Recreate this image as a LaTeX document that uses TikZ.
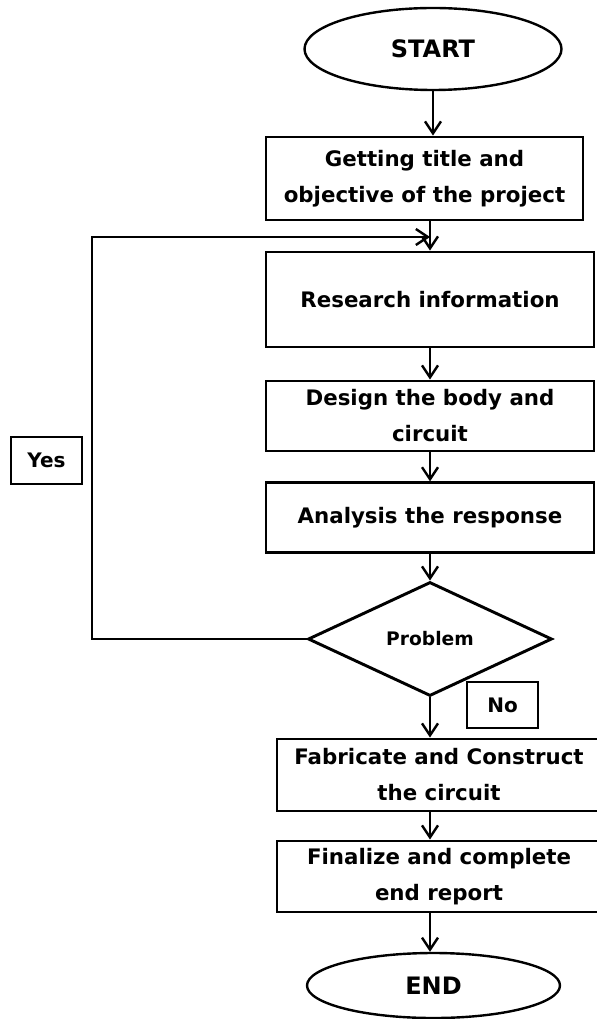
\documentclass[tikz,border=0pt]{standalone}
\usepackage{fontspec}
\setmainfont{DejaVu Sans}
\usetikzlibrary{arrows.meta, shapes.geometric}

\begin{document}
\begin{tikzpicture}[x=0.75pt, y=-0.75pt,
  box/.style={draw, line width=2.2pt, rectangle, align=center, inner sep=0pt, font=\bfseries\fontsize{16}{27}\selectfont},
  oval/.style={draw, line width=1.8pt, ellipse, inner sep=0pt, font=\bfseries\fontsize{18}{20}\selectfont},
  decision/.style={draw, line width=2.2pt, diamond, inner sep=0pt, font=\bfseries\fontsize{14}{16}\selectfont},
  tag/.style={draw, line width=2.2pt, rectangle, inner sep=0pt, minimum width=53.25pt, font=\bfseries\fontsize{15}{16}\selectfont},
  arrow/.style={line width=1.8pt, -{Straight Barb[length=9pt, width=12pt, line width=1.8pt]}}]
\useasboundingbox (0,0) rectangle (596,1019);
\node[oval, minimum width=192.75pt, minimum height=61.5pt] (start) at (433,49) {START};
\node[box, minimum width=237.75pt, minimum height=62.25pt] (title) at (424.5,178.5) {Getting title and\\objective of the project};
\node[box, minimum width=246pt, minimum height=71.25pt] (research) at (430,299.5) {Research information};
\node[box, minimum width=246pt, minimum height=52.5pt] (design) at (430,416) {Design the body and\\circuit};
\node[box, minimum width=246pt, minimum height=52pt] (analysis) at (430,517.5) {Analysis the response};
\node[decision, minimum width=183pt, minimum height=85.5pt] (problem) at (430,639) {Problem};
\node[box, minimum width=243pt, minimum height=54pt] (fabricate) at (439,775) {Fabricate and Construct\\the circuit};
\node[box, minimum width=243pt, minimum height=53.25pt] (finalize) at (439,876.5) {Finalize and complete\\end report};
\node[oval, minimum width=189.75pt, minimum height=48.75pt] (end) at (433.5,985.5) {END};
\node[tag, minimum height=35.25pt] (yes) at (46.5,460.5) {Yes};
\node[tag, minimum height=34.5pt] (no) at (502.5,705) {No};
\coordinate (turn) at (92,237);
\coordinate (join) at (430,237);
\draw[arrow] (start) -- (title.north -| start);
\draw[arrow] (title.south -| research) -- (research.north);
\draw[arrow] (research) -- (design);
\draw[arrow] (design) -- (analysis);
\draw[arrow] (analysis) -- (problem.north);
\draw[arrow] (problem.south) -- (fabricate.north -| problem.south);
\draw[arrow] (fabricate.south -| problem.south) -- (finalize.north -| problem.south);
\draw[arrow] (finalize.south -| problem.south) -- (end.north -| problem.south);
\draw[arrow] (problem.west) -| (turn) -- (join);
\end{tikzpicture}
\end{document}
